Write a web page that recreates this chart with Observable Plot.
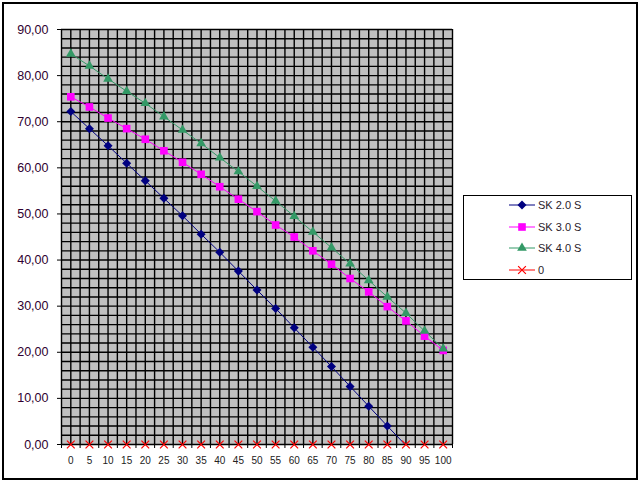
<!DOCTYPE html>
<html>
<head>
<meta charset="utf-8">
<script src="https://cdn.jsdelivr.net/npm/d3@7"></script>
<script src="https://cdn.jsdelivr.net/npm/@observablehq/plot@0.6"></script>
<style>
  html, body { margin: 0; padding: 0; background: #fff; }
  #wrap { position: relative; width: 640px; height: 483px; font-family: "Liberation Sans", Arial, sans-serif; }
  #border { position: absolute; left: 2px; top: 2px; width: 636px; height: 478px; box-sizing: border-box; border: 2px solid #000; pointer-events: none; }
  #legend { position: absolute; left: 463px; top: 195px; width: 169px; height: 85px; box-sizing: border-box; border: 1px solid #000; background: #fff; }
  .row { position: absolute; left: 0; height: 14px; display: flex; align-items: center; }
  .row span { font-size: 11px; color: #2a1a2a; margin-left: 2px; }
  #chart svg { position: absolute; left: 0; top: 0; }
</style>
</head>
<body>
<div id="wrap">
  <div id="chart"></div>
  <div id="border"></div>
  <div id="legend"></div>
</div>
<script>
// ---- data ----
const categories = [0, 5, 10, 15, 20, 25, 30, 35, 40, 45, 50, 55, 60, 65, 70, 75, 80, 85, 90, 95, 100];
const sk20 = [72.2, 68.5, 64.8, 61.0, 57.2, 53.4, 49.6, 45.6, 41.7, 37.6, 33.5, 29.5, 25.3, 21.1, 16.9, 12.6, 8.3, 4.0, -0.2, null, null];
const sk30 = [75.4, 73.2, 70.8, 68.5, 66.2, 63.7, 61.2, 58.6, 55.9, 53.2, 50.5, 47.6, 45.0, 42.0, 39.1, 36.0, 33.1, 29.9, 26.8, 23.5, 20.4];
const sk40 = [84.7, 82.1, 79.3, 76.6, 74.0, 71.1, 68.2, 65.3, 62.2, 59.2, 56.0, 52.8, 49.5, 46.1, 42.7, 39.2, 35.6, 32.0, 28.5, 24.6, 20.8];
const zero = [0, 0, 0, 0, 0, 0, 0, 0, 0, 0, 0, 0, 0, 0, 0, 0, 0, 0, 0, 0, 0];
const seriesNames = ["SK 2.0 S", "SK 3.0 S", "SK 4.0 S", "0"];
const yTicks = [0, 10, 20, 30, 40, 50, 60, 70, 80, 90];

// square-rotated-45° diamond like the spreadsheet marker
const diamondSym = {
  draw(ctx, size) {
    const r = Math.sqrt(size / 2);
    ctx.moveTo(0, -r); ctx.lineTo(r, 0); ctx.lineTo(0, r); ctx.lineTo(-r, 0); ctx.closePath();
  }
};

const seriesStyle = [
  {name: seriesNames[0], values: sk20, color: "#000080", symbol: diamondSym, r: 3.6, filled: true},
  {name: seriesNames[1], values: sk30, color: "#ff00ff", symbol: d3.symbolSquare, r: 4.3, filled: true},
  {name: seriesNames[2], values: sk40, color: "#339966", symbol: d3.symbolTriangle, r: 3.6, filled: true},
  {name: seriesNames[3], values: zero, color: "#ff0000", symbol: d3.symbolTimes, r: 3.6, filled: false}
];

const rows = [];
seriesStyle.forEach(s => categories.forEach((c, i) => {
  if (s.values[i] != null) rows.push({series: s.name, x: c, y: s.values[i]});
}));

const step = categories[1] - categories[0];
const xMin = categories[0] - step / 2, xMax = categories[categories.length - 1] + step / 2;
const vGrid = d3.range(xMin, xMax + 0.001, step / 2);
const hGrid = d3.range(0, 90.001, 2);
const xBoundaries = d3.range(xMin, xMax + 0.001, step);

const marks = [
  Plot.frame({fill: "#c0c0c0", stroke: null}),
  Plot.ruleY(hGrid, {stroke: "#000", strokeWidth: 1.4}),
  Plot.ruleX(vGrid, {stroke: "#000", strokeWidth: 1.4}),
  Plot.axisY({ticks: yTicks, tickFormat: d => d.toFixed(2).replace(".", ","), tickSize: 4, tickPadding: 9, fontSize: 12.5, fill: "#300030", stroke: "#000", label: null}),
  Plot.axisX({ticks: xBoundaries, tickFormat: () => "", tickSize: 4, stroke: "#000", label: null}),
  Plot.axisX({ticks: categories, tickFormat: d => String(d), tickSize: 0, tickPadding: 12, fontSize: 10, fill: "#222", label: null})
];
for (const s of seriesStyle) {
  const d = rows.filter(r => r.series === s.name);
  marks.push(Plot.line(d, {x: "x", y: "y", stroke: s.color, strokeWidth: 1, clip: true}));
}
for (const s of seriesStyle) {
  const d = rows.filter(r => r.series === s.name && r.y >= 0);
  marks.push(Plot.dot(d, s.filled
    ? {x: "x", y: "y", symbol: s.symbol, fill: s.color, stroke: "none", r: s.r}
    : {x: "x", y: "y", symbol: s.symbol, stroke: s.color, fill: "none", strokeWidth: 1.2, r: s.r}));
}

const chart = Plot.plot({
  width: 640,
  height: 483,
  marginLeft: 61,
  marginRight: 188,
  marginTop: 29,
  marginBottom: 39,
  style: {fontFamily: "'Liberation Sans', Arial, sans-serif", background: "transparent", overflow: "visible"},
  x: {type: "linear", domain: [xMin, xMax], axis: null},
  y: {type: "linear", domain: [0, 90], axis: null},
  marks
});
document.getElementById("chart").appendChild(chart);

// ---- legend ----
const legend = d3.select("#legend");
seriesStyle.forEach((s, i) => {
  const row = legend.append("div").attr("class", "row").style("top", (2 + i * 21.7) + "px").style("left", "44px");
  const svg = row.append("svg").attr("width", 28).attr("height", 14);
  svg.append("line").attr("x1", 1).attr("x2", 27).attr("y1", 7).attr("y2", 7).attr("stroke", s.color).attr("stroke-width", 1);
  const path = d3.symbol(s.symbol, Math.PI * s.r * s.r)();
  svg.append("path").attr("d", path).attr("transform", "translate(14,7)")
    .attr("fill", s.filled ? s.color : "none").attr("stroke", s.filled ? "none" : s.color).attr("stroke-width", 1.2);
  row.append("span").text(s.name);
});
</script>
</body>
</html>
